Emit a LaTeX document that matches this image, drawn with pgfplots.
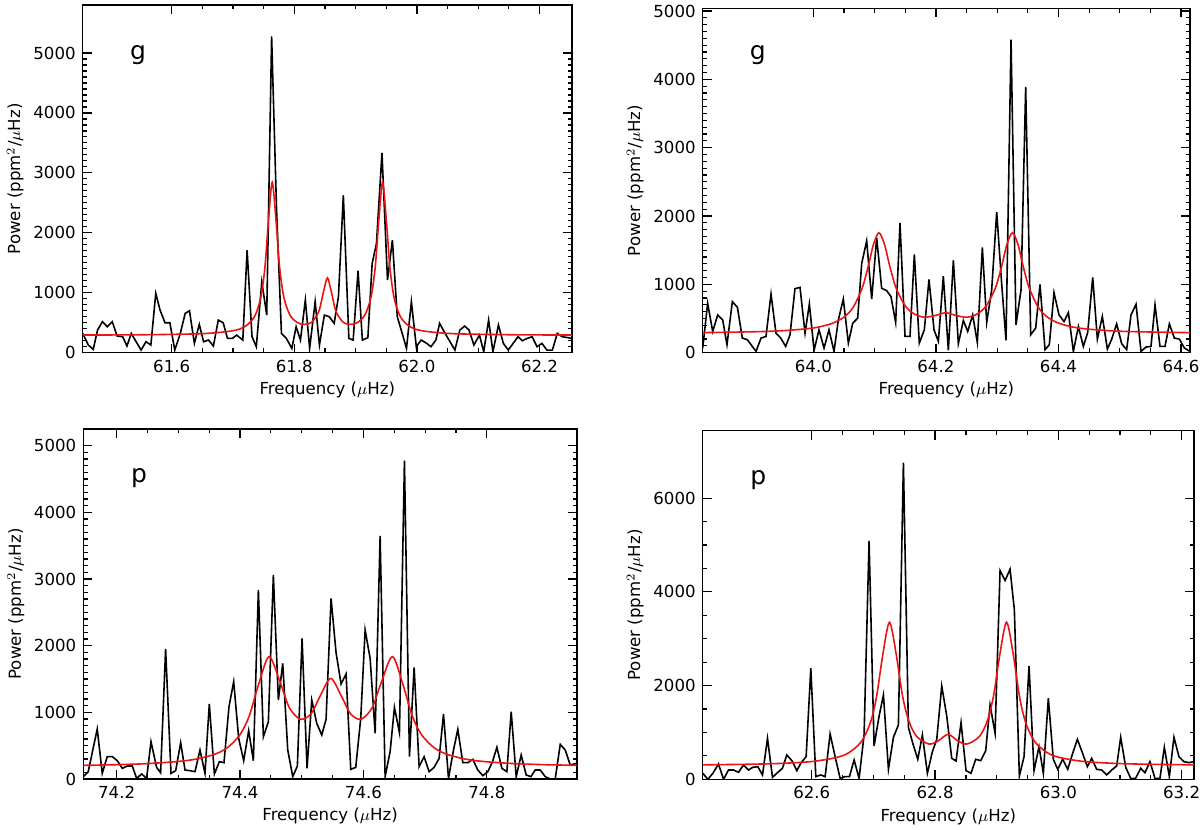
\documentclass[border=0pt]{standalone}
\usepackage{fontspec}
\setmainfont{DejaVu Sans}
\usepackage{pgfplots}
\pgfplotsset{compat=1.18}
\definecolor{fitred}{RGB}{235,20,20}
\pgfplotsset{panel/.style={
  scale only axis, anchor=south west,
  axis line style={line width=0.75pt},
  tick align=inside, xtick pos=both, ytick pos=both,
  major tick length=4.5pt, minor tick length=2.2pt,
  every tick/.style={line width=0.6pt, black},
  every tick label/.append style={font=\fontsize{8.3}{10}\selectfont},
  /pgf/number format/assume math mode=true,
  scaled x ticks=false, scaled y ticks=false,
  xticklabel style={/pgf/number format/.cd, fixed, fixed zerofill, precision=1, assume math mode=true},
  yticklabel style={/pgf/number format/.cd, fixed, 1000 sep={}, assume math mode=true},
  minor x tick num=3, minor y tick num=9,
  label style={font=\fontsize{8.3}{10}\selectfont},
  xlabel={Frequency ($\mu$Hz)},
  ylabel={Power (ppm$^2$/$\mu$Hz)},
  ymin=0,
  xlabel style={yshift=2pt},
  ylabel style={yshift=-2pt},
}}
\begin{document}
\begin{tikzpicture}
\useasboundingbox (0pt,0pt) rectangle (600pt,-415pt);
% Panel 1
\begin{axis}[panel, at={(41.35pt,-176.35pt)}, width=244.65pt, height=173.85pt,
  xmin=61.4548, xmax=62.253, ymax=5800,
  xtick={61.6,61.8,62.0,62.2}, ytick={0,1000,2000,3000,4000,5000}]
\addplot[black, line width=0.8pt] coordinates {
(61.4548,322) (61.464,128) (61.472,56) (61.479,378) (61.487,517) (61.495,433) (61.503,517) (61.511,278) (61.520,267) (61.527,111) (61.534,322) (61.542,183) (61.550,44) (61.558,183) (61.566,128) (61.574,989) (61.581,711) (61.589,500) (61.597,500) (61.605,44) (61.614,322) (61.622,656) (61.629,700) (61.637,156) (61.645,472) (61.652,183) (61.660,211) (61.668,111) (61.676,544) (61.684,500) (61.691,239) (61.699,239) (61.706,294) (61.716,211) (61.723,1711) (61.731,267) (61.738,100) (61.747,1183) (61.755,628) (61.763,5278) (61.771,2400) (61.779,322) (61.787,239) (61.796,72) (61.803,433) (61.810,211) (61.818,878) (61.825,72) (61.834,850) (61.841,128) (61.849,628) (61.857,600) (61.865,489) (61.872,933) (61.880,2628) (61.889,239) (61.896,211) (61.904,1367) (61.911,211) (61.920,250) (61.927,1489) (61.934,1822) (61.943,3333) (61.952,1211) (61.960,1878) (61.968,600) (61.976,322) (61.983,72) (61.991,850) (61.999,100) (62.007,211) (62.016,156) (62.023,100) (62.031,211) (62.037,489) (62.046,322) (62.054,183) (62.062,44) (62.070,378) (62.078,444) (62.085,378) (62.093,128) (62.102,294) (62.109,17) (62.117,544) (62.124,17) (62.133,461) (62.141,156) (62.149,44) (62.157,156) (62.165,267) (62.172,200) (62.180,239) (62.188,267) (62.196,100) (62.204,156) (62.212,44) (62.221,44) (62.229,322) (62.237,267) (62.244,255) (62.253,239)
};
\addplot[fitred, line width=0.8pt, smooth] coordinates {
(61.455,295) (61.55,299) (61.65,318) (61.70,367) (61.72,440) (61.735,602) (61.745,907) (61.752,1417) (61.758,2226) (61.764,2842) (61.770,2230) (61.776,1426) (61.783,922) (61.793,627) (61.805,503) (61.816,472) (61.828,505) (61.840,689) (61.848,1034) (61.854,1249) (61.860,1034) (61.868,689) (61.880,505) (61.892,472) (61.903,503) (61.915,627) (61.925,922) (61.932,1426) (61.938,2230) (61.944,2842) (61.950,2226) (61.956,1417) (61.963,907) (61.973,602) (61.988,440) (62.008,367) (62.058,318) (62.158,299) (62.253,295)
};
\node[font=\fontsize{12.5}{14}\selectfont] at (rel axis cs:0.113,0.856) {g};
\end{axis}
% Panel 2
\begin{axis}[panel, at={(351.35pt,-176.35pt)}, width=243.65pt, height=172.2pt,
  xmin=63.8194, xmax=64.6147, ymax=5040,
  xtick={64.0,64.2,64.4,64.6}, ytick={0,1000,2000,3000,4000,5000}]
\addplot[black, line width=0.8pt] coordinates {
(63.8194,68) (63.8275,723) (63.8357,311) (63.8439,553) (63.852,481) (63.859,117) (63.8678,748) (63.876,665) (63.8841,214) (63.8923,189) (63.9004,92) (63.9064,19) (63.9146,214) (63.9227,238) (63.9309,859) (63.939,286) (63.9467,214) (63.9548,92) (63.9619,262) (63.97,937) (63.9782,956) (63.9864,286) (63.9935,714) (64.0011,34) (64.0092,335) (64.0174,68) (64.0255,335) (64.0337,19) (64.0408,481) (64.0489,786) (64.0571,141) (64.0642,432) (64.0723,505) (64.0789,1306) (64.087,1636) (64.0952,786) (64.1033,1684) (64.1115,942) (64.1197,908) (64.1267,820) (64.1343,442) (64.1414,1898) (64.1496,238) (64.1577,238) (64.1648,1437) (64.1729,141) (64.1811,335) (64.1887,1073) (64.1969,335) (64.2040,165) (64.2121,1121) (64.2203,34) (64.2285,1354) (64.2366,131) (64.2448,471) (64.2519,311) (64.26,553) (64.2676,150) (64.2758,1539) (64.2829,442) (64.291,917) (64.2992,2058) (64.3073,1014) (64.3144,180) (64.3226,4582) (64.3307,408) (64.3389,917) (64.3465,3888) (64.3547,262) (64.3628,359) (64.3699,1000) (64.3781,44) (64.3851,117) (64.3927,879) (64.4009,553) (64.4091,456) (64.4162,587) (64.4243,19) (64.4325,383) (64.4406,92) (64.4477,296) (64.4559,1102) (64.4635,199) (64.4716,529) (64.4798,53) (64.4869,199) (64.495,422) (64.5032,131) (64.5113,44) (64.5184,553) (64.5266,709) (64.5347,19) (64.5429,83) (64.551,92) (64.5576,699) (64.5657,92) (64.5739,92) (64.581,422) (64.5891,214) (64.5973,199) (64.6055,68) (64.6147,19)
};
\addplot[fitred, line width=0.8pt, smooth] coordinates {
(63.82,294) (63.90,306) (63.95,322) (64.00,362) (64.03,427) (64.05,521) (64.065,665) (64.08,955) (64.09,1280) (64.098,1581) (64.107,1756) (64.116,1587) (64.125,1255) (64.135,946) (64.15,684) (64.165,565) (64.182,519) (64.20,547) (64.216,584) (64.232,547) (64.25,519) (64.267,565) (64.282,684) (64.297,946) (64.307,1255) (64.316,1587) (64.325,1756) (64.334,1581) (64.342,1280) (64.352,955) (64.367,665) (64.382,521) (64.402,427) (64.432,362) (64.482,322) (64.532,306) (64.6147,294)
};
\node[font=\fontsize{12.5}{14}\selectfont] at (rel axis cs:0.113,0.864) {g};
\end{axis}
% Panel 3
\begin{axis}[panel, at={(41.65pt,-389.5pt)}, width=246.85pt, height=175pt,
  xmin=74.146, xmax=74.946, ymax=5250,
  xtick={74.2,74.4,74.6,74.8}, ytick={0,1000,2000,3000,4000,5000}]
\addplot[black, line width=0.8pt] coordinates {
(74.146,35) (74.154,110) (74.1686,750) (74.1767,85) (74.1848,335) (74.1930,335) (74.2011,275) (74.2092,160) (74.2173,195) (74.2254,195) (74.2324,10) (74.2405,75) (74.2486,10) (74.2557,560) (74.2648,175) (74.2713,95) (74.2794,1950) (74.2881,85) (74.2957,125) (74.3038,545) (74.3108,135) (74.3189,125) (74.3270,110) (74.3351,435) (74.3432,85) (74.3502,1125) (74.3584,75) (74.3665,260) (74.3740,245) (74.3821,1085) (74.3897,1460) (74.3978,610) (74.4059,275) (74.4140,725) (74.4216,275) (74.4297,2835) (74.4378,635) (74.4459,860) (74.4540,3060) (74.4621,1185) (74.4692,1735) (74.4773,435) (74.4854,35) (74.4929,195) (74.5005,2110) (74.5086,160) (74.5162,1185) (74.5243,835) (74.5324,660) (74.5394,895) (74.5475,2710) (74.5556,1895) (74.5637,1425) (74.5718,1575) (74.5794,145) (74.5875,175) (74.5956,910) (74.6027,2235) (74.6108,1810) (74.6189,685) (74.6270,3645) (74.6351,35) (74.6432,410) (74.6502,1075) (74.6583,695) (74.6664,4775) (74.6745,335) (74.6821,1675) (74.6902,185) (74.6983,335) (74.7064,110) (74.7145,175) (74.7226,310) (74.7297,975) (74.7378,10) (74.7459,435) (74.7529,745) (74.7610,245) (74.7691,245) (74.7772,295) (74.7853,135) (74.7935,50) (74.8016,110) (74.8091,260) (74.8162,475) (74.8243,160) (74.8324,110) (74.8394,1010) (74.8475,35) (74.8556,360) (74.8637,60) (74.8713,35) (74.8783,135) (74.8864,135) (74.8945,35) (74.9026,0) (74.9107,0) (74.9189,520) (74.9270,435) (74.9351,210) (74.9459,235)
};
\addplot[fitred, line width=0.8pt, smooth] coordinates {
(74.146,205) (74.20,215) (74.25,231) (74.30,263) (74.33,301) (74.36,375) (74.38,473) (74.40,666) (74.415,948) (74.43,1416) (74.447,1836) (74.465,1451) (74.48,1068) (74.498,896) (74.515,979) (74.53,1248) (74.547,1509) (74.564,1248) (74.579,979) (74.596,896) (74.614,1068) (74.629,1451) (74.647,1836) (74.664,1416) (74.679,948) (74.694,666) (74.714,473) (74.734,375) (74.764,301) (74.794,263) (74.844,231) (74.894,215) (74.946,205)
};
\node[font=\fontsize{12.5}{14}\selectfont] at (rel axis cs:0.113,0.86) {p};
\end{axis}
% Panel 4
\begin{axis}[panel, at={(351.35pt,-389.65pt)}, width=245.65pt, height=174.3pt,
  xmin=62.423, xmax=63.22, ymax=7440,
  xtick={62.6,62.8,63.0,63.2}, ytick={0,2000,4000,6000}, minor y tick num=3]
\addplot[black, line width=0.8pt] coordinates {
(62.4232,128) (62.4313,0) (62.4395,128) (62.4486,327) (62.4568,0) (62.4649,199) (62.4730,199) (62.4811,149) (62.4892,306) (62.4973,199) (62.5043,256) (62.5124,270) (62.5200,93) (62.5281,875) (62.5362,43) (62.5443,142) (62.5524,235) (62.5594,520) (62.5676,399) (62.5757,185) (62.5827,356) (62.5908,484) (62.5984,2370) (62.6065,57) (62.6146,93) (62.6216,57) (62.6297,968) (62.6378,484) (62.6459,21) (62.6540,57) (62.6611,57) (62.6686,413) (62.6767,21) (62.6848,947) (62.6929,5089) (62.7010,712) (62.7092,1352) (62.7162,1801) (62.7243,213) (62.7324,897) (62.7405,1160) (62.7486,6761) (62.7567,1110) (62.7638,769) (62.7719,427) (62.7794,947) (62.7875,128) (62.7956,591) (62.8027,854) (62.8108,1993) (62.8189,1352) (62.8270,448) (62.8340,391) (62.8421,1210) (62.8502,185) (62.8583,128) (62.8659,427) (62.8740,399) (62.8821,612) (62.8892,1587) (62.8973,982) (62.9054,4455) (62.9135,4242) (62.9216,4484) (62.9286,3615) (62.9367,71) (62.9443,484) (62.9524,2420) (62.9605,185) (62.9686,697) (62.9756,128) (62.9837,1729) (62.9918,427) (62.9989,213) (63.0070,427) (63.0151,213) (63.0232,555) (63.0308,854) (63.0389,569) (63.0470,270) (63.0540,448) (63.0621,213) (63.0702,199) (63.0783,93) (63.0865,199) (63.0946,285) (63.1011,897) (63.1092,256) (63.1173,21) (63.1254,21) (63.1335,235) (63.1405,142) (63.1486,377) (63.1567,21) (63.1648,21) (63.1719,683) (63.1800,57) (63.1875,897) (63.1956,484) (63.2038,377) (63.2119,356) (63.2199,377)
};
\addplot[fitred, line width=0.8pt, smooth] coordinates {
(62.423,309) (62.50,322) (62.55,340) (62.60,379) (62.64,465) (62.66,568) (62.68,798) (62.695,1209) (62.705,1760) (62.715,2645) (62.726,3351) (62.737,2660) (62.747,1792) (62.757,1258) (62.77,916) (62.79,754) (62.805,819) (62.821,960) (62.837,819) (62.852,754) (62.872,916) (62.885,1258) (62.895,1792) (62.905,2660) (62.916,3351) (62.927,2645) (62.937,1760) (62.947,1209) (62.962,798) (62.982,568) (63.002,465) (63.042,379) (63.092,340) (63.142,322) (63.22,309)
};
\node[font=\fontsize{12.5}{14}\selectfont] at (rel axis cs:0.113,0.859) {p};
\end{axis}
\end{tikzpicture}
\end{document}
